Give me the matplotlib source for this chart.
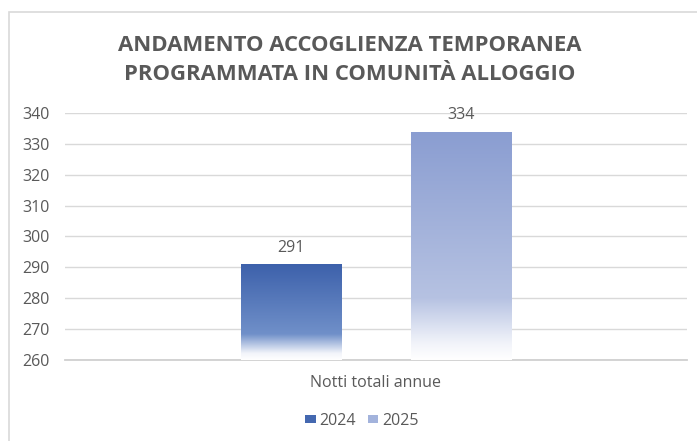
import numpy as np
import matplotlib.pyplot as plt
from matplotlib.colors import LinearSegmentedColormap
from matplotlib.patches import Rectangle, Patch

# data
category = "Notti totali annue"
years = ["2024", "2025"]
values = [291, 334]
title = "ANDAMENTO ACCOGLIENZA TEMPORANEA\nPROGRAMMATA IN COMUNITÀ ALLOGGIO"
yticks = [260, 270, 280, 290, 300, 310, 320, 330, 340]

# gradient colours per series (top, mid, bottom)
grads = [
    ["#3D61AB", "#7090C9", "#FFFFFF"],
    ["#8A9DD1", "#B6C2E2", "#FFFFFF"],
]
legend_cols = ["#4468B0", "#A3B3DC"]

plt.rcParams["font.family"] = ["Open Sans", "DejaVu Sans"]
txt = "#595959"
grid = "#D9D9D9"

fig = plt.figure(figsize=(6.97, 4.41), dpi=100)
ax = fig.add_axes([65 / 697, 81 / 441, 622 / 697, 247 / 441])

# chart frame (cropped on right and bottom in the reference)
fig.patches.append(Rectangle((9 / 697, -0.05), 1.2, (441 - 12) / 441 + 0.05,
                             transform=fig.transFigure, fill=False,
                             edgecolor="#D9D9D9", lw=1.2))

ymin = yticks[0]
width = 0.161
offsets = [-0.136, 0.137]
for i, v in enumerate(values):
    x0 = offsets[i] - width / 2
    bar = ax.bar(offsets[i], v - ymin, width=width, bottom=ymin,
                 facecolor="none", edgecolor="none", zorder=3)[0]
    cmap = LinearSegmentedColormap.from_list(
        "g%d" % i, [(0, grads[i][2]), (0.07, "#F2F4FA"), (0.27, grads[i][1]), (1, grads[i][0])])
    grad = np.linspace(0, 1, 256).reshape(-1, 1)
    im = ax.imshow(grad, cmap=cmap, aspect="auto", origin="lower",
                   extent=(x0, x0 + width, ymin, v), zorder=3)
    im.set_clip_path(bar)
    ax.text(offsets[i], v + 5.2, str(v), ha="center", va="center",
            fontsize=11.5, color=txt, zorder=4)

ax.set_xlim(-0.5, 0.5)
ax.set_ylim(ymin, yticks[-1])
ax.set_yticks(yticks)
ax.set_xticks([0])
ax.set_xticklabels([category])
ax.tick_params(axis="both", length=0, labelsize=11.5, colors=txt)
ax.tick_params(axis="y", pad=11)
ax.tick_params(axis="x", pad=11)
ax.grid(axis="y", color=grid, lw=1)
ax.set_axisbelow(True)
for s in ["top", "right", "left"]:
    ax.spines[s].set_visible(False)
ax.spines["bottom"].set_color("#D0D0D0")
ax.spines["bottom"].set_linewidth(1.3)

fig.text(350 / 697, 1 - 60 / 441, title, ha="center", va="center",
         fontsize=15.9, fontweight="bold", color=txt, linespacing=1.45)

handles = [Patch(facecolor=c, edgecolor="none") for c in legend_cols]
fig.legend(handles, years, loc="center", bbox_to_anchor=(362 / 697, 1 - 421 / 441),
           ncol=2, frameon=False, fontsize=11.5, labelcolor=txt,
           handlelength=0.65, handleheight=0.4, handletextpad=0.25, columnspacing=0.75)

fig.savefig("out.png", dpi=100)
